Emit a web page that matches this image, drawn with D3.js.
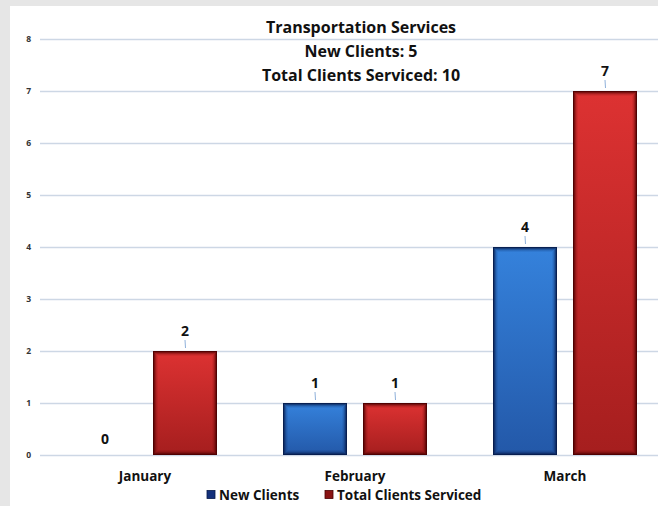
<!DOCTYPE html>
<html>
<head>
<meta charset="utf-8">
<script src="https://cdn.jsdelivr.net/npm/d3@7"></script>
<style>
  body { margin: 0; background: #e6e6e6; }
  svg { display: block; font-family: "Open Sans", Lato, sans-serif; }
</style>
</head>
<body>
<svg id="chart" width="658" height="506"></svg>
<script>
var months = ['January', 'February', 'March'];
var seriesNames = ['New Clients', 'Total Clients Serviced'];
var newClients = [0, 1, 4];
var totalClients = [2, 1, 7];
var yTicks = [0, 1, 2, 3, 4, 5, 6, 7, 8];
var titleLines = ['Transportation Services', 'New Clients: 5', 'Total Clients Serviced: 10'];

var graph = { width: 658, height: 506, left: 40, right: 670, top: 39, bottom: 455 };

var svg = d3.select('#chart');

// chart area (white card over grey frame)
svg.append('rect')
  .attr('x', 10).attr('y', 6)
  .attr('width', graph.width - 10).attr('height', graph.height - 6)
  .attr('fill', '#fff');

var x0 = d3.scaleBand().domain(months).range([graph.left, graph.right]);
var x1 = d3.scaleBand().domain(seriesNames).range([33, 177]).paddingInner(0.2);
var y = d3.scaleLinear().domain([0, 8]).range([graph.bottom, graph.top]);

// gridlines
svg.append('g')
  .attr('transform', 'translate(' + graph.left + ',0)')
  .call(d3.axisLeft(y).tickValues(yTicks).tickSize(-(graph.width - graph.left)).tickFormat(''))
  .call(function(g) {
    g.select('.domain').remove();
    g.selectAll('line').attr('stroke', '#cdd7e5').attr('stroke-width', 1.3);
  });

// y labels
svg.append('g')
  .attr('transform', 'translate(31,0)')
  .call(d3.axisLeft(y).tickValues(yTicks).tickSize(0).tickPadding(0))
  .call(function(g) {
    g.select('.domain').remove();
    g.selectAll('text')
      .attr('font-family', '"Open Sans", sans-serif')
      .attr('font-size', 8.5).attr('font-weight', 700).attr('fill', '#333');
  });

// x labels
svg.append('g')
  .attr('transform', 'translate(0,' + graph.bottom + ')')
  .call(d3.axisBottom(x0).tickSize(0).tickPadding(16))
  .call(function(g) {
    g.select('.domain').remove();
    g.selectAll('text')
      .attr('font-family', '"Open Sans", sans-serif')
      .attr('font-size', 13.5).attr('font-weight', 700).attr('fill', '#111');
  });

var palette = {
  'New Clients': { top: '#3582dc', bottom: '#2358a8', edge: '#061a4a' },
  'Total Clients Serviced': { top: '#dd3232', bottom: '#a51e1e', edge: '#4a0000' }
};

var defs = svg.append('defs');
seriesNames.forEach(function(s, i) {
  var grad = defs.append('linearGradient')
    .attr('id', 'grad' + i).attr('x1', 0).attr('y1', 0).attr('x2', 0).attr('y2', 1);
  grad.append('stop').attr('offset', '0%').attr('stop-color', palette[s].top);
  grad.append('stop').attr('offset', '100%').attr('stop-color', palette[s].bottom);
});

var rows = months.map(function(m, i) {
  return { month: m, values: [
    { series: seriesNames[0], idx: 0, value: newClients[i] },
    { series: seriesNames[1], idx: 1, value: totalClients[i] }
  ] };
});

var groups = svg.append('g').selectAll('g')
  .data(rows).enter().append('g')
  .attr('transform', function(d) { return 'translate(' + x0(d.month) + ',0)'; });

var bars = groups.selectAll('g.bar')
  .data(function(d) { return d.values; })
  .enter().append('g').attr('class', 'bar');

bars.filter(function(d) { return d.value > 0; }).each(function(d) {
  var g = d3.select(this);
  var bx = x1(d.series), bw = x1.bandwidth();
  var by = y(d.value), bh = y(0) - y(d.value);
  g.append('rect')
    .attr('x', bx).attr('y', by).attr('width', bw).attr('height', bh)
    .attr('fill', 'url(#grad' + d.idx + ')');
  // inner glow edges
  [[0.5, 1, 0.95], [1.5, 1, 0.65], [2.5, 1, 0.4], [3.5, 1, 0.2], [4.5, 1, 0.08]].forEach(function(e) {
    g.append('rect')
      .attr('x', bx + e[0]).attr('y', by + e[0])
      .attr('width', bw - 2 * e[0]).attr('height', bh - 2 * e[0])
      .attr('fill', 'none')
      .attr('stroke', palette[d.series].edge)
      .attr('stroke-width', e[1])
      .attr('stroke-opacity', e[2]);
  });
  // leader line
  g.append('line')
    .attr('x1', bx + bw / 2).attr('x2', bx + bw / 2 + 0.5)
    .attr('y1', by - 11).attr('y2', by - 3)
    .attr('stroke', '#8fb1db').attr('stroke-width', 1);
});

bars.append('text')
  .attr('x', function(d) { return x1(d.series) + x1.bandwidth() / 2; })
  .attr('y', function(d) { return d.value > 0 ? y(d.value) - 15 : y(0) - 11; })
  .attr('text-anchor', 'middle')
  .attr('font-size', 14).attr('font-weight', 700).attr('fill', '#111')
  .text(function(d) { return d.value; });

// title
svg.append('g').selectAll('text')
  .data(titleLines).enter().append('text')
  .attr('x', 361)
  .attr('y', function(d, i) { return 33 + i * 24; })
  .attr('text-anchor', 'middle')
  .attr('font-size', 16).attr('font-weight', 700).attr('fill', '#111')
  .text(function(d) { return d; });

// legend
var legend = svg.append('g').attr('transform', 'translate(207,495)');
var legendX = [0, 118];
seriesNames.forEach(function(s, i) {
  var lg = legend.append('g').attr('transform', 'translate(' + legendX[i] + ',0)');
  lg.append('rect')
    .attr('x', 0).attr('y', -4.5).attr('width', 8).attr('height', 8)
    .attr('fill', i === 0 ? '#13307a' : '#8a1414')
    .attr('stroke', palette[s].edge).attr('stroke-width', 0.8);
  lg.append('text')
    .attr('x', 12).attr('y', 5)
    .attr('font-size', 13.5).attr('font-weight', 700).attr('fill', '#111')
    .text(s);
});
</script>
</body>
</html>
